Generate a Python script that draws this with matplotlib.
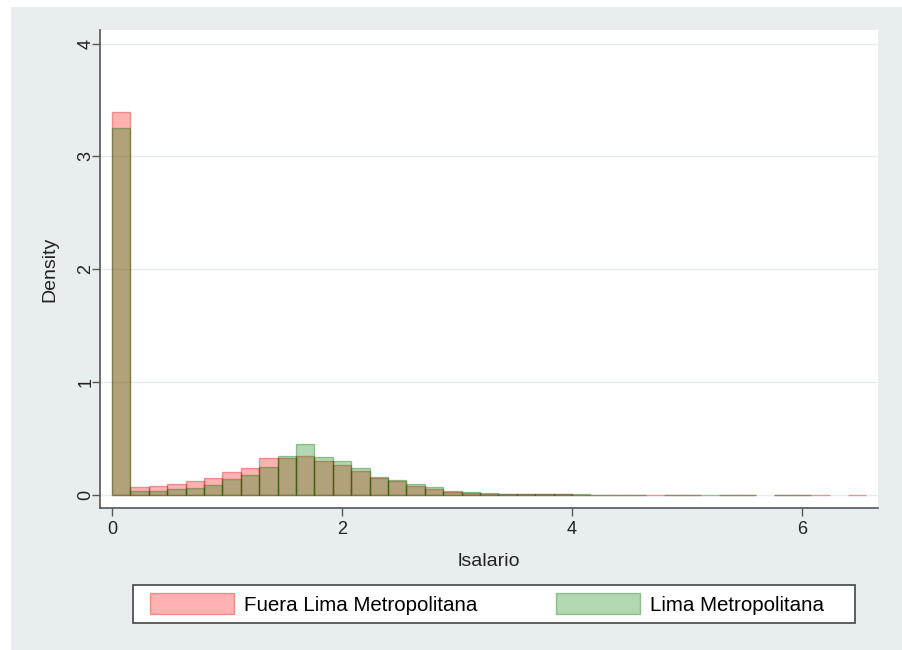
"""Overlaid density histograms of log wage (lsalario), Lima vs. rest of Peru."""

import matplotlib

matplotlib.use("Agg")
import matplotlib.pyplot as plt
from matplotlib.patches import Rectangle
import numpy as np

BIN_WIDTH = 0.16
BIN_START = 0.0

# density per bin, read bin by bin from 0 upward (0 = empty bin)
fuera_lima = [
    3.39, 0.07, 0.08, 0.10, 0.12, 0.15, 0.20, 0.24, 0.33, 0.33,
    0.35, 0.30, 0.27, 0.21, 0.15, 0.12, 0.08, 0.05, 0.03, 0.02,
    0.012, 0.008, 0.006, 0.005, 0.005, 0.004, 0.004, 0.004, 0.003, 0.004,
    0.003, 0.004, 0.0, 0.003, 0.003, 0.0, 0.003, 0.003, 0.003, 0.0,
    0.003,
]
lima_metro = [
    3.25, 0.04, 0.04, 0.05, 0.06, 0.09, 0.14, 0.18, 0.25, 0.35,
    0.45, 0.34, 0.30, 0.24, 0.16, 0.13, 0.10, 0.07, 0.04, 0.025,
    0.015, 0.01, 0.007, 0.006, 0.005, 0.005, 0.004, 0.004, 0.003, 0.0,
    0.004, 0.004, 0.003, 0.002, 0.003, 0.0, 0.003, 0.002, 0.0, 0.0,
    0.0,
]

series_labels = ["Fuera Lima Metropolitana", "Lima Metropolitana"]
x_ticks = [0, 2, 4, 6]
y_ticks = [0, 1, 2, 3, 4]

plt.rcParams["font.family"] = ["Liberation Sans", "DejaVu Sans"]

fig = plt.figure(figsize=(9.03, 6.5), dpi=100)
fig.patch.set_facecolor("white")
# grey graph region behind the white plot area
fig.patches.append(
    Rectangle((11 / 903, 0), 1, 643 / 650, transform=fig.transFigure,
              facecolor="#e8eef0", edgecolor="none", zorder=-10)
)

ax = fig.add_axes([100 / 903, 1 - 508 / 650, 778 / 903, 478 / 650])
ax.set_zorder(1)
ax.set_facecolor("white")


def draw_hist(heights, face, edge, label, z):
    heights = np.asarray(heights)
    lefts = BIN_START + BIN_WIDTH * np.arange(len(heights))
    keep = heights > 0  # empty bins draw nothing
    return ax.bar(lefts[keep], heights[keep], width=BIN_WIDTH, align="edge",
                  facecolor=face, edgecolor=edge, linewidth=1.0,
                  label=label, zorder=z)


draw_hist(fuera_lima, (1, 0, 0, 0.3), (0.8, 0, 0, 0.35), series_labels[0], 2)
draw_hist(lima_metro, (0, 0.5, 0, 0.3), (0, 0.4, 0, 0.35), series_labels[1], 3)

ax.set_xlim(-0.104, 6.66)
ax.set_ylim(-0.115, 4.12)
ax.set_xticks(x_ticks)
ax.set_yticks(y_ticks)
ax.grid(axis="y", color="#e6ecec", linewidth=1.0, zorder=1)
ax.set_axisbelow(True)

for side in ("top", "right"):
    ax.spines[side].set_visible(False)
for side in ("left", "bottom"):
    ax.spines[side].set_color("#555555")
    ax.spines[side].set_linewidth(1.2)

ax.tick_params(axis="both", colors="#555555", length=6, width=1.0,
               labelsize=13, labelcolor="#222222")
ax.tick_params(axis="y", pad=-2)
plt.setp(ax.get_yticklabels(), rotation=90, va="center")

ax.set_xlabel("lsalario", fontsize=14, color="#222222", labelpad=11)
ax.set_ylabel("Density", fontsize=14, color="#222222", labelpad=14)

# legend box drawn separately so its padding can be uneven
fig.patches.append(
    Rectangle((133 / 903, 1 - 623 / 650), 722 / 903, 38 / 650,
              transform=fig.transFigure, facecolor="white",
              edgecolor="#444444", linewidth=1.2, zorder=2)
)
handles, labels = ax.get_legend_handles_labels()
leg = fig.legend(
    handles, labels, ncol=2, loc="center",
    bbox_to_anchor=(487 / 903, 1 - 604 / 650),
    fontsize=14.8, handlelength=4.1, handleheight=1.2, handletextpad=0.5,
    columnspacing=3.8, borderpad=0.2, borderaxespad=0, frameon=False,
)
leg.set_zorder(3)

fig.savefig("out.png", dpi=100)
